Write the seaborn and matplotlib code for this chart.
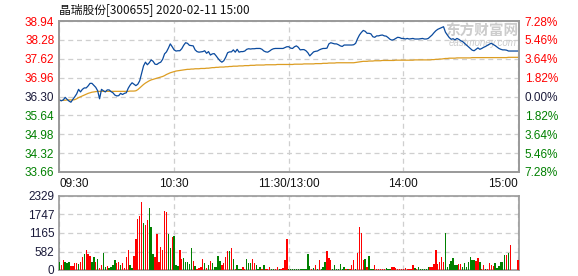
import numpy as np
import pandas as pd
import matplotlib
matplotlib.use("Agg")
import matplotlib.pyplot as plt
import seaborn as sns

# ---------------- data ----------------
title = "晶瑞股份[300655] 2020-02-11 15:00"
prev_close = 36.30
price_ticks = [33.66, 34.32, 34.98, 35.64, 36.30, 36.96, 37.62, 38.28, 38.94]
pct_labels = ["7.28%", "5.46%", "3.64%", "1.82%", "0.00%", "1.82%", "3.64%", "5.46%", "7.28%"]
vol_ticks = [0, 582, 1165, 1747, 2329]
time_ticks = [0, 60, 120, 180, 240]
time_labels = ["09:30", "10:30", "11:30/13:00", "14:00", "15:00"]

price = [
    36.18, 36.15, 36.18, 36.27, 36.20, 36.14, 36.10, 36.20, 36.29, 36.39,
    36.55, 36.46, 36.55, 36.60, 36.60, 36.67, 36.76, 36.76, 36.69, 36.62,
    36.50, 36.22, 36.55, 36.50, 36.46, 36.53, 36.53, 36.47, 36.43, 36.35,
    36.32, 36.33, 36.41, 36.37, 36.41, 36.43, 36.59, 36.70, 36.78, 36.73,
    36.68, 36.73, 36.85, 37.11, 37.37, 37.50, 37.41, 37.48, 37.58, 37.53,
    37.43, 37.42, 37.47, 37.50, 37.60, 37.79, 37.86, 37.99, 38.14, 38.04,
    37.93, 37.89, 37.90, 37.90, 37.97, 38.09, 38.18, 38.16, 38.09, 38.08,
    38.07, 37.93, 37.87, 37.85, 37.86, 37.87, 37.90, 37.81, 37.87, 37.75,
    37.79, 37.80, 37.72, 37.63, 37.55, 37.50, 37.55, 37.67, 37.83, 37.86,
    37.86, 37.93, 37.85, 37.95, 37.85, 37.87, 37.87, 37.89, 37.95, 37.97,
    37.96, 37.97, 37.97, 37.98, 37.98, 37.98, 37.95, 37.89, 37.86, 37.85,
    37.89, 37.94, 37.97, 37.98, 37.98, 37.98, 37.98, 37.98, 38.01, 38.04,
    38.04,
    37.99, 37.98, 38.04, 38.07, 38.02, 37.93, 37.94, 37.94, 37.90, 37.83,
    37.72, 37.79, 37.86, 37.88, 37.89, 37.93, 37.96, 37.98, 37.98, 37.99,
    38.14, 38.18, 38.16, 38.14, 38.14, 38.11, 38.07, 38.05, 38.10, 38.10,
    38.10, 38.10, 38.10, 38.11, 38.16, 38.32, 38.45, 38.54, 38.61, 38.58,
    38.51, 38.51, 38.49, 38.39, 38.37, 38.42, 38.42, 38.44, 38.45, 38.42,
    38.41, 38.36, 38.30, 38.27, 38.29, 38.33, 38.37, 38.36, 38.33, 38.33,
    38.31, 38.33, 38.31, 38.32, 38.33, 38.31, 38.31, 38.31, 38.32, 38.33,
    38.31, 38.31, 38.33, 38.39, 38.45, 38.53, 38.60, 38.65, 38.68, 38.71,
    38.74, 38.55, 38.45, 38.36, 38.30, 38.32, 38.28, 38.33, 38.30, 38.25,
    38.22, 38.16, 38.10, 38.04, 37.98, 37.92, 37.90, 37.95, 38.00, 37.95,
    37.98, 38.02, 38.05, 38.09, 38.13, 38.16, 38.12, 38.08, 38.03, 37.98,
    37.95, 37.93, 37.93, 37.92, 37.89, 37.89, 37.89, 37.89, 37.89, 37.89,
]

avg_price = [
    36.16, 36.16, 36.17, 36.17, 36.18, 36.18, 36.18, 36.18, 36.19, 36.22,
    36.26, 36.29, 36.32, 36.35, 36.38, 36.41, 36.43, 36.45, 36.46, 36.47,
    36.48, 36.48, 36.48, 36.48, 36.48, 36.48, 36.48, 36.48, 36.48, 36.48,
    36.48, 36.48, 36.48, 36.48, 36.48, 36.48, 36.48, 36.49, 36.49, 36.49,
    36.50, 36.54, 36.60, 36.66, 36.72, 36.77, 36.81, 36.85, 36.88, 36.90,
    36.92, 36.94, 36.96, 36.98, 37.00, 37.03, 37.07, 37.10, 37.13, 37.15,
    37.17, 37.19, 37.20, 37.21, 37.22, 37.23, 37.24, 37.25, 37.25, 37.26,
    37.26, 37.27, 37.27, 37.27, 37.28, 37.28, 37.28, 37.29, 37.29, 37.30,
    37.31, 37.31, 37.32, 37.32, 37.33, 37.33, 37.33, 37.34, 37.34, 37.35,
    37.35, 37.36, 37.36, 37.36, 37.37, 37.37, 37.37, 37.38, 37.38, 37.38,
    37.39, 37.39, 37.39, 37.40, 37.40, 37.40, 37.40, 37.40, 37.41, 37.41,
    37.41, 37.41, 37.41, 37.41, 37.42, 37.42, 37.42, 37.42, 37.42, 37.42,
    37.42,
    37.42, 37.42, 37.43, 37.43, 37.43, 37.43, 37.43, 37.44, 37.44, 37.44,
    37.44, 37.44, 37.44, 37.45, 37.45, 37.45, 37.45, 37.46, 37.46, 37.46,
    37.47, 37.47, 37.47, 37.47, 37.48, 37.48, 37.48, 37.48, 37.48, 37.48,
    37.48, 37.48, 37.48, 37.48, 37.49, 37.50, 37.51, 37.52, 37.53, 37.53,
    37.53, 37.54, 37.54, 37.54, 37.55, 37.55, 37.55, 37.55, 37.56, 37.56,
    37.56, 37.56, 37.56, 37.56, 37.56, 37.57, 37.57, 37.57, 37.57, 37.57,
    37.57, 37.57, 37.57, 37.57, 37.57, 37.58, 37.58, 37.58, 37.58, 37.58,
    37.58, 37.58, 37.58, 37.58, 37.59, 37.59, 37.60, 37.60, 37.61, 37.61,
    37.62, 37.63, 37.63, 37.64, 37.64, 37.64, 37.64, 37.65, 37.65, 37.65,
    37.65, 37.65, 37.65, 37.65, 37.65, 37.66, 37.66, 37.66, 37.66, 37.66,
    37.66, 37.66, 37.66, 37.66, 37.66, 37.66, 37.66, 37.66, 37.66, 37.66,
    37.66, 37.66, 37.66, 37.66, 37.67, 37.67, 37.67, 37.67, 37.67, 37.67,
]

volume = [
    262, 157, 315, 262, 231, 262, 126, 126, 210, 210,
    189, 262, 420, 504, 630, 504, 441, 262, 399, 262,
    346, 73, 157, 546, 105, 126, 52, 84, 157, 315,
    231, 262, 157, 231, 73, 420, 630, 157, 73, 441,
    976, 1606, 1701, 2152, 1491, 1417, 1575, 1942, 1344, 504,
    420, 1134, 262, 735, 630, 1869, 1838, 1134, 682, 1050,
    1071, 157, 126, 630, 346, 367, 262, 262, 189, 682,
    294, 126, 21, 52, 84, 346, 231, 52, 157, 294,
    231, 84, 84, 441, 294, 157, 210, 420, 598, 598,
    682, 346, 21, 157, 21, 21, 105, 21, 336, 210,
    210, 336, 231, 157, 21, 84, 21, 157, 21, 21,
    84, 21, 21, 21, 84, 21, 21, 52, 315, 966,
    21,
    21, 21, 21, 21, 21, 21, 21, 21, 21, 504,
    126, 21, 52, 157, 21, 315, 21, 84, 262, 598,
    367, 315, 21, 157, 21, 21, 189, 21, 84, 21,
    21, 21, 157, 315, 21, 546, 1344, 1176, 315, 336,
    84, 441, 21, 21, 157, 21, 21, 21, 21, 21,
    52, 21, 21, 84, 84, 52, 21, 21, 21, 21,
    52, 21, 21, 21, 157, 52, 21, 84, 21, 21,
    21, 21, 84, 84, 84, 189, 630, 189, 262, 420,
    262, 1176, 84, 189, 294, 367, 157, 157, 189, 189,
    84, 210, 84, 262, 420, 315, 315, 294, 367, 262,
    21, 157, 21, 21, 231, 157, 126, 210, 52, 126,
    262, 262, 472, 472, 546, 787, 0, 0, 0, 315,
]

direction = list(
    "GRRGGGRRRR" "GRRGRRRGGR" "GRRGGRGGGG" "RRGRRRRGGR" "RRRRGRRGGG"
    "RRRRRRRGGR" "GGGRRGGGGG" "RGRRRRGRGR" "GGGGGRRRRG" "RGRGGGRRGG"
    "GRRGGGRGRR" "RGGRRGRRRR" "G"
    "GGGGGGGGGG" "GRGRGRGGGR" "RRGGGGGGGR" "GRRRGRRRRG" "RGGGRRRRRR"
    "GGGRRRRRRR" "RRRRRGRGGG" "GGGRRRRRRR" "RGGGGGGGRR" "GGGGGGGRRG"
    "RRGRRRRGGG" "GGGRGRRRRR"
)

n = len(price)
assert len(avg_price) == n and len(volume) == n and len(direction) == n

df = pd.DataFrame({
    "minute": np.arange(n),
    "price": price,
    "avg": avg_price,
    "volume": volume,
    "dir": direction,
})

# ---------------- style ----------------
sns.set_theme(style="white")
plt.rcParams["font.family"] = ["Liberation Sans", "Noto Sans CJK SC", "DejaVu Sans"]

RED = "#ff0000"
GREEN = "#008000"
DARK = "#1a1a3a"
SPINE = "#999999"
GRID = "#cfcfcf"
dash = (0, (4, 3))

fig = plt.figure(figsize=(5.78, 2.76), dpi=100)
W, H = 578.0, 276.0
x0, x1 = 58.5, 519.0
ax = fig.add_axes([x0 / W, 1 - 172 / H, (x1 - x0) / W, (172 - 21) / H])
axv = fig.add_axes([x0 / W, 1 - 270 / H, (x1 - x0) / W, (270 - 196) / H])

# price panel
sns.lineplot(data=df, x="minute", y="avg", ax=ax, color="#dc9d22", lw=0.9, zorder=3)
sns.lineplot(data=df, x="minute", y="price", ax=ax, color="#0a4a9e", lw=0.9, zorder=4)
ax.set_xlim(-0.5, n - 0.5)
ax.set_ylim(price_ticks[0], price_ticks[-1])
ax.set_xlabel("")
ax.set_ylabel("")
ax.set_yticks(price_ticks)
ax.set_yticklabels([f"{v:.2f}" for v in price_ticks])
ax.set_xticks(time_ticks)
ax.set_xticklabels(time_labels)
xl = ax.get_xticklabels()
xl[0].set_horizontalalignment("left")
xl[-1].set_horizontalalignment("right")
ax.tick_params(axis="both", length=0, labelsize=8.5, colors="#111111")
ax.tick_params(axis="y", pad=3)
ax.tick_params(axis="x", pad=4)
for lab, v in zip(ax.get_yticklabels(), price_ticks):
    lab.set_color(RED if v > prev_close + 1e-6 else (GREEN if v < prev_close - 1e-6 else DARK))
ax.grid(True, color=GRID, linestyle=dash, linewidth=0.9)
for s in ax.spines.values():
    s.set_color(SPINE)
    s.set_linewidth(1.2)

axr = ax.twinx()
axr.set_ylim(price_ticks[0], price_ticks[-1])
axr.set_yticks(price_ticks)
axr.set_yticklabels(pct_labels)
axr.tick_params(axis="y", length=0, labelsize=8.5, pad=4)
for lab, v in zip(axr.get_yticklabels(), price_ticks):
    lab.set_color(RED if v > prev_close + 1e-6 else (GREEN if v < prev_close - 1e-6 else DARK))
axr.grid(False)
for s in axr.spines.values():
    s.set_color(SPINE)
    s.set_linewidth(1.2)

# watermark
ax.text(482 / W, 1 - 30.5 / H, "东方财富网", transform=fig.transFigure, ha="center", va="center",
        fontsize=10.5, fontweight="bold", color="#cccccc", family=["Noto Sans CJK SC", "DejaVu Sans"], zorder=1)
ax.text(483 / W, 1 - 43 / H, "eastmoney.com", transform=fig.transFigure, ha="center", va="center",
        fontsize=7, style="italic", color="#cccccc", zorder=1)

# volume panel
sns.barplot(data=df, x="minute", y="volume", hue="dir", palette={"R": RED, "G": GREEN},
            native_scale=True, width=0.72, dodge=False, legend=False, errorbar=None,
            saturation=1, linewidth=0, edgecolor="none", antialiased=False, ax=axv, zorder=3)
axv.set_xlim(-0.5, n - 0.5)
axv.set_ylim(vol_ticks[0], vol_ticks[-1])
axv.set_xlabel("")
axv.set_ylabel("")
axv.set_yticks(vol_ticks)
axv.set_yticklabels([str(v) for v in vol_ticks])
axv.set_xticks(time_ticks)
axv.set_xticklabels([])
axv.tick_params(axis="both", length=0, labelsize=8.5, colors=DARK, pad=3)
axv.grid(True, color=GRID, linestyle=dash, linewidth=0.9, zorder=0)
axv.set_axisbelow(True)
for s in axv.spines.values():
    s.set_color(SPINE)
    s.set_linewidth(1.2)

fig.text(59 / W, 1 - 10 / H, title, ha="left", va="center", fontsize=8.5, color="#111111",
         family=["Noto Sans CJK SC", "DejaVu Sans"])

fig.savefig("out.png", dpi=100)
